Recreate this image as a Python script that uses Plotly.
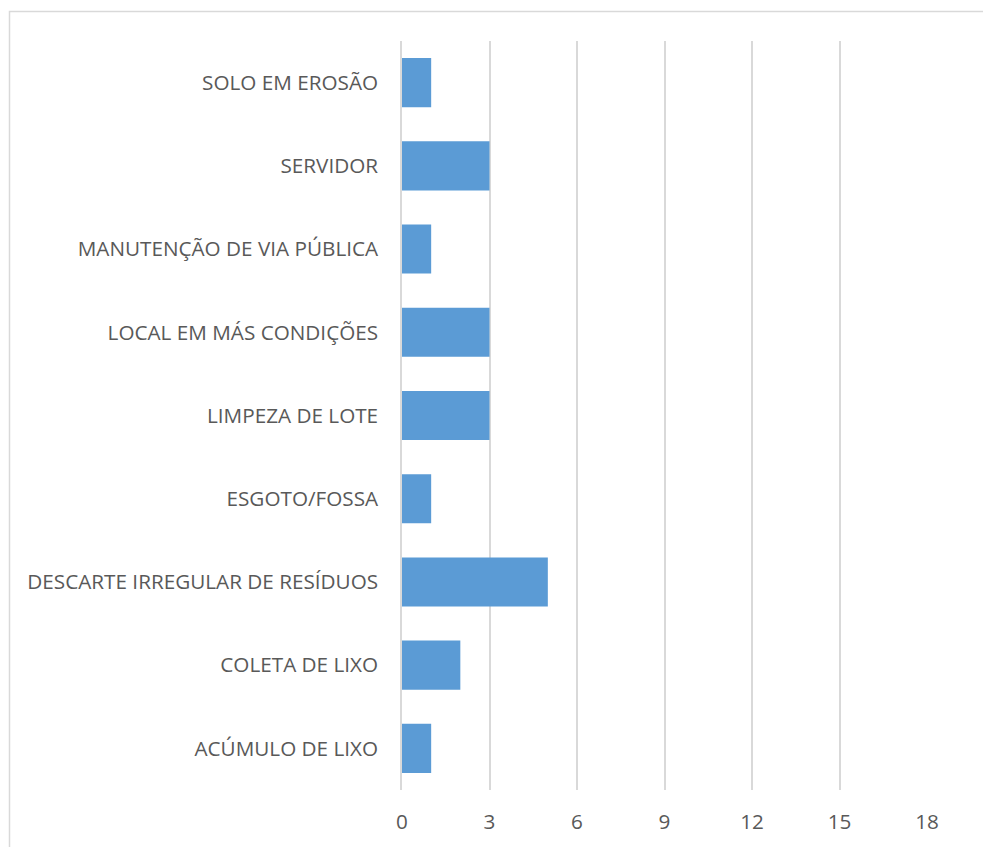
import plotly.graph_objects as go

# Ocorrências por tipo (ordem de baixo para cima)
categorias = [
    "ACÚMULO DE LIXO",
    "COLETA DE LIXO",
    "DESCARTE IRREGULAR DE RESÍDUOS",
    "ESGOTO/FOSSA",
    "LIMPEZA DE LOTE",
    "LOCAL EM MÁS CONDIÇÕES",
    "MANUTENÇÃO DE VIA PÚBLICA",
    "SERVIDOR",
    "SOLO EM EROSÃO",
]
quantidades = [1, 2, 5, 1, 3, 3, 1, 3, 1]
ticks_x = [0, 3, 6, 9, 12, 15, 18]

W, H = 983, 847
L, R, T, B = 402, 927, 41, 792

fig = go.Figure(
    go.Bar(
        x=quantidades,
        y=categorias,
        orientation="h",
        marker=dict(color="#5B9BD5", line=dict(width=0)),
        width=0.59,
    )
)

# moldura do gráfico (em coordenadas de papel)
pw, ph = R - L, B - T
fig.add_shape(
    type="rect", xref="paper", yref="paper",
    x0=(9.5 - L) / pw, x1=(W + 20 - L) / pw,
    y0=(B - (H + 20)) / ph, y1=(B - 11.5) / ph,
    line=dict(color="#D9D9D9", width=1.5),
    fillcolor="rgba(0,0,0,0)", layer="below",
)

fig.update_layout(
    width=W, height=H,
    margin=dict(l=L, r=W - R, t=T, b=H - B, pad=0),
    paper_bgcolor="white", plot_bgcolor="white",
    showlegend=False,
    font=dict(family="Open Sans", size=20.7, color="#595959"),
    xaxis=dict(
        range=[0, 18], tickvals=ticks_x, ticktext=[str(v) for v in ticks_x],
        showgrid=True, gridcolor="#D9D9D9", gridwidth=1.5,
        zeroline=False, showline=False, ticks="",
        ticklabelstandoff=17, fixedrange=True,
    ),
    yaxis=dict(
        categoryorder="array", categoryarray=categorias,
        range=[-0.5, len(categorias) - 0.5],
        showgrid=False, zeroline=False,
        showline=True, linecolor="#D9D9D9", linewidth=1.5,
        ticks="", ticklabelstandoff=18, fixedrange=True,
    ),
)

fig.write_html("out.html")
